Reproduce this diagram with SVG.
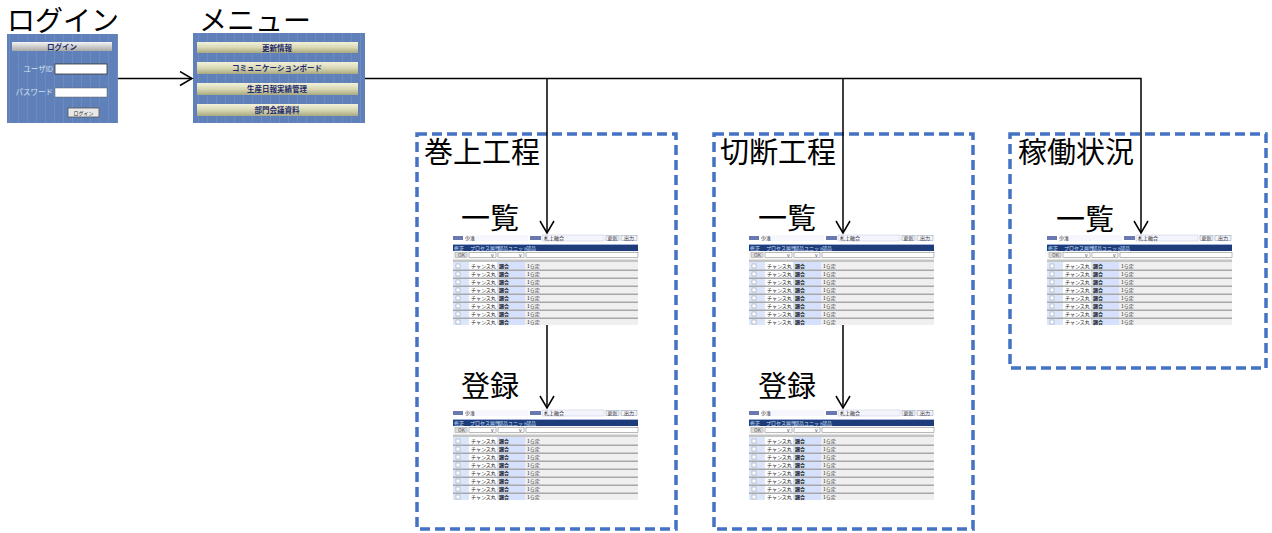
<svg xmlns="http://www.w3.org/2000/svg" width="1272" height="533" viewBox="0 0 1272 533">
<style>
.lbl{font-family:"Noto Sans CJK JP","Noto Sans CJK SC",sans-serif;font-size:28px;fill:#000}
.ttl{font-size:29px}
.box{fill:none;stroke:#4472C4;stroke-width:3.5;stroke-dasharray:10 5}
.conn{fill:none;stroke:#000;stroke-width:1.5}
.t5{font-family:"Noto Sans CJK JP",sans-serif;font-size:5px}
.t7{font-family:"Noto Sans CJK JP",sans-serif;font-size:7.5px}
</style>
<defs>
<marker id="ah" markerUnits="userSpaceOnUse" markerWidth="16" markerHeight="16" viewBox="0 0 16 16" refX="14" refY="8" orient="auto">
<path d="M2,1 L14,8 L2,15" fill="none" stroke="#000" stroke-width="1.5"/>
</marker>
<linearGradient id="gbar" x1="0" y1="0" x2="0" y2="1">
<stop offset="0" stop-color="#f4f4f4"/><stop offset="1" stop-color="#a8a8a8"/>
</linearGradient>
<linearGradient id="gbtn" x1="0" y1="0" x2="0" y2="1">
<stop offset="0" stop-color="#f2f2dc"/><stop offset="0.5" stop-color="#d8d8b4"/><stop offset="1" stop-color="#a8a880"/>
</linearGradient>
<pattern id="stripe" width="9" height="10" patternUnits="userSpaceOnUse">
<rect width="9" height="10" fill="#5f80b9"/><rect x="0" width="1" height="10" fill="#6c8bc0"/>
</pattern>
<g id="thumb">
<rect width="185" height="91" fill="#fff"/>
<rect x="12" y="1" width="63" height="6" fill="#f6f6fc"/>
<rect x="0" y="2" width="10" height="4" fill="#6a78b0"/>
<text class="t5" x="12" y="6" fill="#222">少准</text>
<rect x="77" y="2" width="11" height="4" fill="#6a78b0"/>
<rect x="89" y="1" width="62" height="6" fill="#f4f4fc" stroke="#c4c4dc" stroke-width="0.5"/>
<text class="t5" x="91" y="6" fill="#222">札上融合</text>
<rect x="153" y="1.5" width="13" height="5" fill="#f4f4f4" stroke="#8899bb" stroke-width="0.5"/>
<text class="t5" x="154.5" y="5.6" fill="#334">更新</text>
<rect x="168" y="1.5" width="16" height="5" fill="#f4f4f4" stroke="#8899bb" stroke-width="0.5"/>
<text class="t5" x="171" y="5.6" fill="#334">出力</text>
<rect x="0" y="10" width="185" height="7" fill="#1e3c7a"/>
<rect x="0" y="10" width="185" height="1" fill="#9fb0d8"/>
<g fill="#cfe0ff" class="t5">
<text x="1" y="15.5">修正</text><text x="17" y="15.5">プロセス属性</text><text x="45" y="15.5">部品ユニット</text><text x="73" y="15.5">部品</text>
</g>
<rect x="0" y="17" width="185" height="8" fill="#f8f8f8"/>
<rect x="2" y="18.5" width="12" height="5" fill="#ddd" stroke="#999" stroke-width="0.5"/>
<text class="t5" x="5" y="22.5" fill="#555">OK</text>
<rect x="16" y="18.5" width="27" height="5" fill="#fff" stroke="#777" stroke-width="0.5"/>
<text class="t5" x="38" y="22.5" fill="#333">v</text>
<rect x="45" y="18.5" width="26" height="5" fill="#fff" stroke="#777" stroke-width="0.5"/>
<text class="t5" x="66" y="22.5" fill="#333">v</text>
<rect x="73" y="18.5" width="112" height="5" fill="#fff" stroke="#777" stroke-width="0.5"/>
<rect x="0" y="25.5" width="185" height="2.5" fill="#c4c4c4"/>
<rect x="0" y="28" width="16" height="63" fill="#dce6fa"/>
<rect x="16" y="28" width="28" height="63" fill="#fff"/>
<rect x="44" y="28" width="28" height="63" fill="#d4e0fc"/>
<rect x="72" y="28" width="113" height="63" fill="#efefef"/>
<g fill="#fff" stroke="#8899aa" stroke-width="0.5">
<rect x="3" y="30" width="4" height="4"/><rect x="3" y="38" width="4" height="4"/><rect x="3" y="46" width="4" height="4"/><rect x="3" y="54" width="4" height="4"/><rect x="3" y="62" width="4" height="4"/><rect x="3" y="70" width="4" height="4"/><rect x="3" y="78" width="4" height="4"/><rect x="3" y="86" width="4" height="4"/>
</g>
<g class="t5" fill="#222">
<text x="18" y="34">チャンス丸</text><text x="46" y="34" font-weight="bold">調合</text><text x="74" y="34">1ら定</text>
<text x="18" y="42">チャンス丸</text><text x="46" y="42" font-weight="bold">調合</text><text x="74" y="42">1ら定</text>
<text x="18" y="50">チャンス丸</text><text x="46" y="50" font-weight="bold">調合</text><text x="74" y="50">1ら定</text>
<text x="18" y="58">チャンス丸</text><text x="46" y="58" font-weight="bold">調合</text><text x="74" y="58">1ら定</text>
<text x="18" y="66">チャンス丸</text><text x="46" y="66" font-weight="bold">調合</text><text x="74" y="66">1ら定</text>
<text x="18" y="74">チャンス丸</text><text x="46" y="74" font-weight="bold">調合</text><text x="74" y="74">1ら定</text>
<text x="18" y="82">チャンス丸</text><text x="46" y="82" font-weight="bold">調合</text><text x="74" y="82">1ら定</text>
<text x="18" y="90">チャンス丸</text><text x="46" y="90" font-weight="bold">調合</text><text x="74" y="90">1ら定</text>
</g>
<g fill="#a8a8a8">
<rect x="0" y="35.5" width="185" height="1.5"/><rect x="0" y="43.5" width="185" height="1.5"/><rect x="0" y="51.5" width="185" height="1.5"/><rect x="0" y="59.5" width="185" height="1.5"/><rect x="0" y="67.5" width="185" height="1.5"/><rect x="0" y="75.5" width="185" height="1.5"/><rect x="0" y="83.5" width="185" height="1.5"/>
</g>
</g>
</defs>
<rect width="1272" height="533" fill="#fff"/>

<g id="login">
<text class="lbl" x="7" y="31">ログイン</text>
<rect x="7" y="34" width="111" height="89" fill="url(#stripe)"/>
<rect x="12" y="42" width="100" height="9" fill="url(#gbar)"/>
<text class="t7" x="62" y="49.5" text-anchor="middle" font-weight="bold" fill="#1a2a6a">ログイン</text>
<text class="t7" x="53" y="72" text-anchor="end" fill="#d8e0f0">ユーザID</text>
<rect x="55" y="64" width="52" height="10" fill="#fff" stroke="#333" stroke-width="0.8"/>
<text class="t7" x="53" y="95" text-anchor="end" fill="#d8e0f0">パスワード</text>
<rect x="55" y="88" width="52" height="9" fill="#fff" stroke="#666" stroke-width="0.5"/>
<rect x="68" y="108" width="31" height="9" fill="#e8e8e8" stroke="#555" stroke-width="0.8"/>
<text class="t5" x="83.5" y="114.5" text-anchor="middle" fill="#222">ログイン</text>
</g>

<g id="menu">
<text class="lbl" x="199" y="31">メニュー</text>
<rect x="193" y="33" width="172" height="90" fill="url(#stripe)"/>
<rect x="197" y="42" width="161" height="11" fill="url(#gbtn)"/>
<rect x="197" y="62" width="161" height="12" fill="url(#gbtn)"/>
<rect x="197" y="83" width="161" height="12" fill="url(#gbtn)"/>
<rect x="197" y="104" width="161" height="12" fill="url(#gbtn)"/>
<g class="t7" fill="#1e2a6e" font-weight="bold" text-anchor="middle">
<text x="277" y="50.5">更新情報</text>
<text x="277" y="71">コミュニケーションボード</text>
<text x="277" y="92">生産日報実績管理</text>
<text x="277" y="113">部門会議資料</text>
</g>
</g>

<g id="makiage">
<rect class="box" x="417" y="134" width="259" height="395"/>
<text class="lbl ttl" x="424" y="163">巻上工程</text>
<text class="lbl ttl" x="461" y="229">一覧</text>
<use href="#thumb" x="453" y="234"/>
<text class="lbl ttl" x="461" y="397">登録</text>
<use href="#thumb" x="453" y="409"/>
</g>

<g id="setsudan">
<rect class="box" x="714" y="134" width="259" height="395"/>
<text class="lbl ttl" x="720" y="163">切断工程</text>
<text class="lbl ttl" x="758" y="229">一覧</text>
<use href="#thumb" x="749" y="234"/>
<text class="lbl ttl" x="758" y="397">登録</text>
<use href="#thumb" x="749" y="409"/>
</g>

<g id="kadou">
<rect class="box" x="1010" y="134" width="256" height="234"/>
<text class="lbl ttl" x="1018" y="163">稼働状況</text>
<text class="lbl ttl" x="1056" y="230">一覧</text>
<use href="#thumb" x="1047" y="234"/>
</g>

<g id="connectors">
<line class="conn" x1="118" y1="78.5" x2="192" y2="78.5" marker-end="url(#ah)"/>
<path class="conn" d="M365,78.5 H1141 V233" marker-end="url(#ah)"/>
<line class="conn" x1="547" y1="78.5" x2="547" y2="233" marker-end="url(#ah)"/>
<line class="conn" x1="843" y1="78.5" x2="843" y2="233" marker-end="url(#ah)"/>
<line class="conn" x1="547" y1="325" x2="547" y2="408" marker-end="url(#ah)"/>
<line class="conn" x1="843" y1="325" x2="843" y2="408" marker-end="url(#ah)"/>
</g>
</svg>
